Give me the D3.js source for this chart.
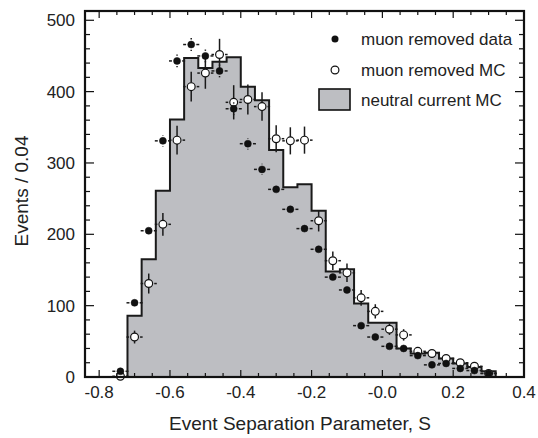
<!DOCTYPE html>
<html>
<head>
<meta charset="utf-8">
<script src="https://cdn.jsdelivr.net/npm/d3@7"></script>
<style>
  html, body { margin: 0; padding: 0; background: #fff; }
  svg { display: block; font-family: "Liberation Sans", Arial, Helvetica, sans-serif; }
</style>
</head>
<body>
<svg id="chart" width="538" height="438"></svg>
<script>
// ---- data ----
const binCenters = [-0.74,-0.70,-0.66,-0.62,-0.58,-0.54,-0.50,-0.46,-0.42,-0.38,-0.34,-0.30,-0.26,-0.22,-0.18,-0.14,-0.10,-0.06,-0.02,0.02,0.06,0.10,0.14,0.18,0.22,0.26,0.30];
const binWidth = 0.04;
const ncMC      = [0,86,165,261,361,447,433,442,448,407,388,318,266,270,233,148,151,103,76,76,40,33,34,26,19,14,8];
const dataVals  = [8,104,205,331,443,466,450,429,376,327,291,263,235,208,179,140,122,72,56,43,40,30,17,19,12,9,5];
const dataErr   = [3,5,6,8,9,9,9,9,9,8,8,7,7,7,7,6,6,5,4,4,4,3,3,3,2,2,2];
const mcVals    = [1,56,131,214,332,407,426,452,385,389,379,334,331,332,219,163,146,111,92,67,59,36,33,26,20,15,5];
const mcErr     = [3,9,14,16,20,21,22,22,24,21,20,19,19,19,15,13,13,11,10,8,8,6,6,5,4,4,3];
const xMajorTicks = [-0.8,-0.6,-0.4,-0.2,0.0,0.2,0.4];
const xTickLabels = ["-0.8","-0.6","-0.4","-0.2","-0.0","0.2","0.4"];
const yMajorTicks = [0,100,200,300,400,500];
const legendLabels = ["muon removed data","muon removed MC","neutral current MC"];

// ---- layout ----
const L = 85, R = 524, T = 11, B = 377;
const svg = d3.select("#chart");
const x = d3.scaleLinear().domain([-0.84, 0.4]).range([L, R]);
const y = d3.scaleLinear().domain([0, 513]).range([B, T]);
const fillGray = "#bdbec2";

// histogram (step)
const steps = binCenters.map((c, i) => ({x: c - binWidth/2, v: ncMC[i]}));
steps.push({x: binCenters[binCenters.length-1] + binWidth/2, v: 0});
const area = d3.area().curve(d3.curveStepAfter)
  .x(d => x(d.x)).y0(y(0)).y1(d => y(d.v));
const line = d3.line().curve(d3.curveStepAfter)
  .x(d => x(d.x)).y(d => y(d.v));
svg.append("path").datum(steps).attr("d", area).attr("fill", fillGray);
svg.append("path").datum(steps).attr("d", line)
  .attr("fill", "none").attr("stroke", "#1a1a1a").attr("stroke-width", 2);

// error bars helper
function drawPoints(vals, errs, filled) {
  const g = svg.append("g");
  const r = filled ? 3.5 : 3.9;
  const gap = 1.6;
  const hw = binWidth * 0.57;
  binCenters.forEach((c, i) => {
    const cx = x(c), cy = y(vals[i]);
    const hx0 = x(c - hw), hx1 = x(c + hw);
    const vy0 = y(vals[i] + errs[i]), vy1 = y(Math.max(0, vals[i] - errs[i]));
    const segs = [
      [hx0, cy, cx - r - gap, cy],
      [cx + r + gap, cy, hx1, cy],
      [cx, vy0, cx, cy - r - (filled ? gap : 0)],
      [cx, cy + r + (filled ? gap : 0), cx, vy1]
    ];
    segs.forEach(s => {
      if ((s[0] === s[2] && s[3] > s[1]) || (s[1] === s[3] && s[2] > s[0])) {
        g.append("line").attr("x1", s[0]).attr("y1", s[1]).attr("x2", s[2]).attr("y2", s[3])
          .attr("stroke", "#1a1a1a").attr("stroke-width", 1.5);
      }
    });
    g.append("circle").attr("cx", cx).attr("cy", cy).attr("r", r)
      .attr("fill", filled ? "#111" : "#fff")
      .attr("stroke", "#111").attr("stroke-width", filled ? 0.5 : 1.2);
  });
}
drawPoints(mcVals, mcErr, false);
drawPoints(dataVals, dataErr, true);

// ---- axes / frame ----
const xMinor = d3.range(-0.80, 0.401, 0.05).map(v => +v.toFixed(2));
const yMinor = d3.range(0, 513, 20);
const axG = svg.append("g").attr("stroke", "#111").attr("stroke-width", 1.2);
xMinor.forEach(v => {
  const isMajor = xMajorTicks.some(m => Math.abs(m - v) < 1e-6);
  const len = isMajor ? 7 : 4;
  axG.append("line").attr("x1", x(v)).attr("x2", x(v)).attr("y1", B).attr("y2", B - len);
  axG.append("line").attr("x1", x(v)).attr("x2", x(v)).attr("y1", T).attr("y2", T + len);
});
yMinor.forEach(v => {
  const isMajor = v % 100 === 0;
  const len = isMajor ? 9 : 5;
  axG.append("line").attr("y1", y(v)).attr("y2", y(v)).attr("x1", L).attr("x2", L + len);
  axG.append("line").attr("y1", y(v)).attr("y2", y(v)).attr("x1", R).attr("x2", R - len);
});
svg.append("rect").attr("x", L).attr("y", T).attr("width", R - L).attr("height", B - T)
  .attr("fill", "none").attr("stroke", "#111").attr("stroke-width", 2.2);

// tick labels
svg.append("g").selectAll("text").data(xMajorTicks).join("text")
  .attr("x", d => x(d)).attr("y", 398).attr("text-anchor", "middle")
  .attr("font-size", 17).attr("fill", "#222")
  .text((d, i) => xTickLabels[i]);
svg.append("g").selectAll("text").data(yMajorTicks).join("text")
  .attr("x", 75).attr("y", d => y(d) + 6).attr("text-anchor", "end")
  .attr("font-size", 17).attr("fill", "#222")
  .text(d => d);

// axis titles
svg.append("text").attr("x", 300).attr("y", 430).attr("text-anchor", "middle")
  .attr("font-size", 19).attr("fill", "#222").text("Event Separation Parameter,  S");
svg.append("text").attr("transform", "translate(28,191) rotate(-90)")
  .attr("text-anchor", "middle").attr("font-size", 19).attr("fill", "#222")
  .text("Events / 0.04");

// legend
const lg = svg.append("g");
lg.append("circle").attr("cx", 335).attr("cy", 39).attr("r", 3.5).attr("fill", "#111");
lg.append("circle").attr("cx", 335).attr("cy", 70).attr("r", 3.9).attr("fill", "#fff")
  .attr("stroke", "#111").attr("stroke-width", 1.2);
lg.append("rect").attr("x", 319).attr("y", 89).attr("width", 31).attr("height", 21)
  .attr("fill", fillGray).attr("stroke", "#111").attr("stroke-width", 1.6);
lg.selectAll("text").data(legendLabels).join("text")
  .attr("x", 361).attr("y", (d, i) => [45, 76, 106][i])
  .attr("font-size", 17).attr("fill", "#222").text(d => d);
</script>
</body>
</html>
